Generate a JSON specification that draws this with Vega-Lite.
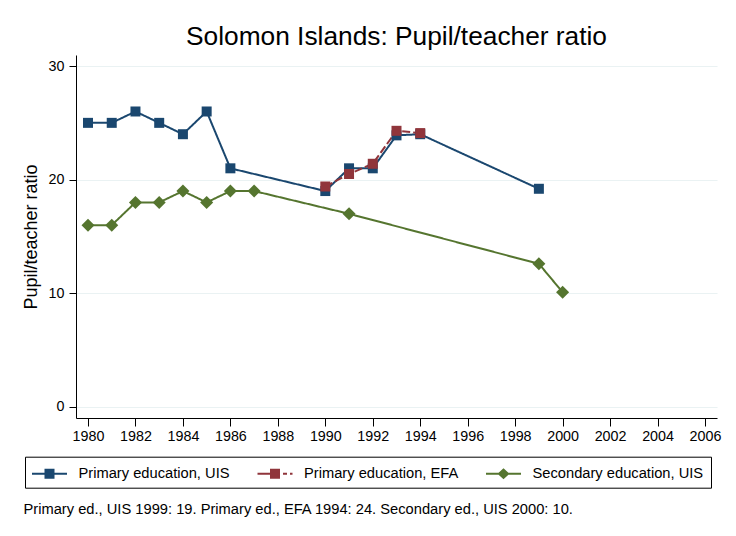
{
  "$schema": "https://vega.github.io/schema/vega-lite/v6.json",
  "width": 641,
  "height": 363,
  "autosize": {"type": "none"},
  "padding": {"left": 76, "top": 55, "right": 19, "bottom": 118},
  "background": "white",
  "config": {
    "font": "Liberation Sans",
    "view": {"stroke": null},
    "axis": {"labelColor": "black", "titleColor": "black", "domainColor": "black", "tickColor": "black", "labelFont": "Liberation Sans", "titleFont": "Liberation Sans", "titleFontWeight": "normal"}
  },
  "title": {"text": "Solomon Islands: Pupil/teacher ratio", "fontSize": 26.3, "fontWeight": "normal", "color": "black", "baseline": "bottom", "frame": "group", "offset": 3, "dy": 25, "font": "Liberation Sans"},
  "data": {
    "values": [
      {"series": "Primary education, UIS", "year": 1980, "ratio": 25},
      {"series": "Primary education, UIS", "year": 1981, "ratio": 25},
      {"series": "Primary education, UIS", "year": 1982, "ratio": 26},
      {"series": "Primary education, UIS", "year": 1983, "ratio": 25},
      {"series": "Primary education, UIS", "year": 1984, "ratio": 24},
      {"series": "Primary education, UIS", "year": 1985, "ratio": 26},
      {"series": "Primary education, UIS", "year": 1986, "ratio": 21},
      {"series": "Primary education, UIS", "year": 1990, "ratio": 19},
      {"series": "Primary education, UIS", "year": 1991, "ratio": 21},
      {"series": "Primary education, UIS", "year": 1992, "ratio": 21},
      {"series": "Primary education, UIS", "year": 1993, "ratio": 23.9},
      {"series": "Primary education, UIS", "year": 1994, "ratio": 24},
      {"series": "Primary education, UIS", "year": 1999, "ratio": 19.2},
      {"series": "Primary education, EFA", "year": 1990, "ratio": 19.4},
      {"series": "Primary education, EFA", "year": 1991, "ratio": 20.5},
      {"series": "Primary education, EFA", "year": 1992, "ratio": 21.4},
      {"series": "Primary education, EFA", "year": 1993, "ratio": 24.3},
      {"series": "Primary education, EFA", "year": 1994, "ratio": 24.1},
      {"series": "Secondary education, UIS", "year": 1980, "ratio": 16},
      {"series": "Secondary education, UIS", "year": 1981, "ratio": 16},
      {"series": "Secondary education, UIS", "year": 1982, "ratio": 18},
      {"series": "Secondary education, UIS", "year": 1983, "ratio": 18},
      {"series": "Secondary education, UIS", "year": 1984, "ratio": 19},
      {"series": "Secondary education, UIS", "year": 1985, "ratio": 18},
      {"series": "Secondary education, UIS", "year": 1986, "ratio": 19},
      {"series": "Secondary education, UIS", "year": 1987, "ratio": 19},
      {"series": "Secondary education, UIS", "year": 1991, "ratio": 17},
      {"series": "Secondary education, UIS", "year": 1999, "ratio": 12.6},
      {"series": "Secondary education, UIS", "year": 2000, "ratio": 10.1}
    ]
  },
  "encoding": {
    "x": {
      "field": "year", "type": "quantitative",
      "scale": {"domain": [1979.494, 2006.506], "nice": false, "zero": false},
      "axis": {
        "values": [1980, 1982, 1984, 1986, 1988, 1990, 1992, 1994, 1996, 1998, 2000, 2002, 2004, 2006],
        "format": "d", "grid": false, "tickSize": 8, "labelPadding": 3, "labelFontSize": 14.3, "labelFlush": false, "labelOverlap": false,
        "title": "Primary ed., UIS 1999: 19. Primary ed., EFA 1994: 24. Secondary ed., UIS 2000: 10.",
        "titleFontSize": 14.7, "titleAnchor": "start", "titleAlign": "left", "titleBaseline": "alphabetic", "titleX": -53, "titleY": 95
      }
    },
    "y": {
      "field": "ratio", "type": "quantitative",
      "scale": {"domain": [-0.968, 30.97], "nice": false, "zero": false},
      "axis": {
        "values": [0, 10, 20, 30], "grid": true, "gridColor": "#eaf2f3", "gridWidth": 1.2,
        "tickSize": 7, "labelPadding": 5, "labelFontSize": 14.3,
        "title": "Pupil/teacher ratio", "titleFontSize": 18, "titlePadding": 8
      }
    }
  },
  "layer": [
    {
      "mark": {"type": "line", "strokeWidth": 2},
      "encoding": {
        "color": {"field": "series", "type": "nominal", "scale": {"domain": ["Secondary education, UIS", "Primary education, EFA", "Primary education, UIS"], "range": ["#55752f", "#90353b", "#1a476f"]}, "legend": null},
        "strokeDash": {"field": "series", "type": "nominal", "scale": {"domain": ["Secondary education, UIS", "Primary education, EFA", "Primary education, UIS"], "range": [[1, 0], [8, 3], [1, 0]]}, "legend": null}
      }
    },
    {
      "transform": [{"filter": "datum.series != 'Secondary education, UIS'"}],
      "mark": {"type": "point", "shape": "square", "filled": true, "opacity": 1, "size": 100},
      "encoding": {
        "color": {"field": "series", "type": "nominal", "legend": null}
      }
    },
    {
      "transform": [{"filter": "datum.series == 'Secondary education, UIS'"}],
      "mark": {"type": "point", "shape": "diamond", "filled": true, "opacity": 1, "size": 170},
      "encoding": {
        "color": {"field": "series", "type": "nominal", "legend": null}
      }
    },
    {
      "mark": {"type": "point", "filled": true, "size": 0},
      "encoding": {
        "fill": {
          "field": "series", "type": "nominal",
          "scale": {"domain": ["Primary education, UIS", "Primary education, EFA", "Secondary education, UIS"], "range": ["#1a476f", "#90353b", "#55752f"]},
          "legend": {
            "title": null, "orient": "none", "legendX": -51, "legendY": 401.7, "direction": "horizontal",
            "strokeColor": "black", "padding": 7, "symbolSize": 400, "symbolOffset": 7.5, "symbolStrokeWidth": 0, "symbolOpacity": 1,
            "labelFontSize": 14.7, "labelOffset": 19, "columnPadding": 27.5, "labelColor": "black", "labelFont": "Liberation Sans", "labelLimit": 300
          }
        },
        "shape": {
          "field": "series", "type": "nominal",
          "scale": {"domain": ["Primary education, UIS", "Primary education, EFA", "Secondary education, UIS"],
            "range": [
              "M-1.75,-0.1H1.75V0.1H-1.75Z M-0.5,-0.5H0.5V0.5H-0.5Z",
              "M-1.75,-0.1H-0.5V0.1H-1.75Z M-0.5,-0.5H0.5V0.5H-0.5Z M0.8,-0.1H1.2V0.1H0.8Z M1.5,-0.1H1.75V0.1H1.5Z",
              "M-1.75,-0.1H1.75V0.1H-1.75Z M0,-0.55L0.6,0L0,0.55L-0.6,0Z"
            ]},
          "legend": {
            "title": null, "orient": "none", "legendX": -51, "legendY": 401.7, "direction": "horizontal",
            "strokeColor": "black", "padding": 7, "symbolSize": 400, "symbolOffset": 7.5, "symbolStrokeWidth": 0, "symbolOpacity": 1,
            "labelFontSize": 14.7, "labelOffset": 19, "columnPadding": 27.5, "labelColor": "black", "labelFont": "Liberation Sans", "labelLimit": 300
          }
        }
      }
    }
  ]
}
